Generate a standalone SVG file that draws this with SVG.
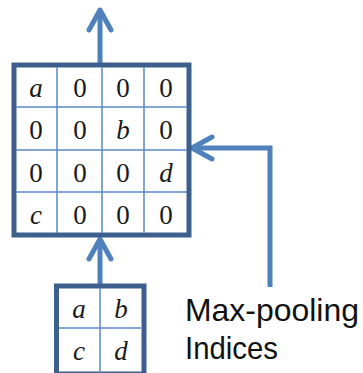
<svg xmlns="http://www.w3.org/2000/svg" width="363" height="373" viewBox="0 0 363 373">
<style>
.frame{fill:#fff;stroke:#3d5f8e;stroke-width:5}
.grid{stroke:#5b8ac6;stroke-width:1.5;fill:none}
.cell{font-family:"Liberation Serif",serif;font-size:27px;fill:#1a1a1a;text-anchor:middle}
.var{font-style:italic}
.conn{stroke:#4f81bd;stroke-width:5;fill:none}
.label{font-family:"Liberation Sans",Arial,sans-serif;font-size:32px;fill:#111}
</style>
<defs>
<marker id="chev" viewBox="-26 -14 30 28" refX="0" refY="0" markerWidth="30" markerHeight="28" orient="auto" markerUnits="userSpaceOnUse" overflow="visible">
<path d="M-20,-11 L0,0 L-20,11" fill="none" stroke="#4f81bd" stroke-width="5" stroke-linejoin="round" stroke-linecap="round"/>
</marker>
</defs>
<g id="connectors">
<path class="conn" d="M100,63 V10" marker-end="url(#chev)"/>
<path class="conn" d="M100,284 V239" marker-end="url(#chev)"/>
<path class="conn" d="M270,287 V148 H192" marker-end="url(#chev)"/>
</g>
<g id="unpooled">
<rect class="frame" x="14" y="65" width="175" height="170"/>
<path class="grid" d="M57,67 V233 M102,67 V233 M144,67 V233 M16,107 H187 M16,150 H187 M16,192 H187"/>
<text class="cell var" x="36" y="97">a</text>
<text class="cell" x="80" y="97">0</text>
<text class="cell" x="123" y="97">0</text>
<text class="cell" x="166" y="97">0</text>
<text class="cell" x="36" y="139">0</text>
<text class="cell" x="80" y="139">0</text>
<text class="cell var" x="123" y="139">b</text>
<text class="cell" x="166" y="139">0</text>
<text class="cell" x="36" y="182">0</text>
<text class="cell" x="80" y="182">0</text>
<text class="cell" x="123" y="182">0</text>
<text class="cell var" x="166" y="182">d</text>
<text class="cell var" x="36" y="224">c</text>
<text class="cell" x="80" y="224">0</text>
<text class="cell" x="123" y="224">0</text>
<text class="cell" x="166" y="224">0</text>
</g>
<g id="pooled">
<rect class="frame" x="56.5" y="286" width="87.5" height="88"/>
<path class="grid" d="M100,288 V373 M59,328 H141"/>
<text class="cell var" x="79" y="318">a</text>
<text class="cell var" x="121" y="318">b</text>
<text class="cell var" x="79" y="360">c</text>
<text class="cell var" x="121" y="360">d</text>
</g>
<g id="indices-label">
<text class="label" x="185" y="321" textLength="174" lengthAdjust="spacingAndGlyphs">Max-pooling</text>
<text class="label" x="185" y="359" textLength="93" lengthAdjust="spacingAndGlyphs">Indices</text>
</g>
</svg>
